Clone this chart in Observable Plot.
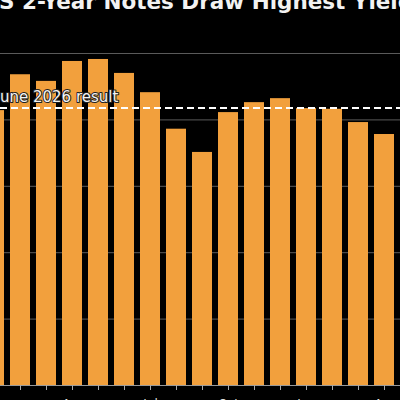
<!DOCTYPE html>
<html><head><meta charset="utf-8">
<script src="https://cdn.jsdelivr.net/npm/d3@7"></script>
<script src="https://cdn.jsdelivr.net/npm/@observablehq/plot@0.6"></script>
<style>
html,body{margin:0;padding:0;background:#000;}
#wrap{position:relative;width:400px;height:400px;overflow:hidden;background:#000;}
#title{position:absolute;z-index:2;left:-18.5px;top:-11.5px;white-space:nowrap;font:bold 21.5px "DejaVu Sans";color:#f2f2f2;}
#chart{position:absolute;z-index:1;left:0;top:0;}
</style></head><body>
<div id="wrap"><div id="title">US 2-Year Notes Draw Highest Yield Since 2024</div><div id="chart"></div></div>
<script>
const months = ["Jan 2025","Feb 2025","Mar 2025","Apr 2025","May 2025","Jun 2025","Jul 2025","Aug 2025","Sep 2025","Oct 2025","Nov 2025","Dec 2025","Jan 2026","Feb 2026","Mar 2026","Apr 2026"];
const yields = [4.14, 4.68, 4.58, 4.88, 4.91, 4.70, 4.41, 3.86, 3.51, 4.11, 4.26, 4.32, 4.17, 4.16, 3.96, 3.78];
const juneResult = 4.18;
const juneLabel = "June 2026 result";
const gridValues = [1, 2, 3, 4, 5];

const data = months.map((m, i) => ({month: m, value: yields[i]}));

const plot = Plot.plot({
  width: 400, height: 400,
  marginTop: 53, marginBottom: 15, marginLeft: 0, marginRight: 0,
  style: {background: "#000", color: "#ccc", fontFamily: "DejaVu Sans", fontSize: "12px"},
  x: {domain: months, range: [-19.25, 396.75], paddingInner: 0.25, paddingOuter: 0.125, align: 0.5, label: null},
  y: {domain: [0, 5], axis: null},
  marks: [
    Plot.ruleY(gridValues, {stroke: "#5a5a5a", strokeWidth: 1}),
    Plot.barY(data, {x: "month", y: "value", fill: "#f2a03d"}),
    Plot.ruleY([0], {stroke: "#999"}),
    Plot.axisX({label: null, tickSize: 5, tickPadding: 9, stroke: "#aaa", fill: "#ddd", fontSize: 12,
      tickFormat: (d, i) => i % 3 === 0 ? d.slice(0, 3) : ""}),
    Plot.ruleY([juneResult], {stroke: "#fff", strokeWidth: 2, strokeDasharray: "7,4"}),
    Plot.text([{month: months[0], v: juneResult, t: juneLabel}], {
      x: "month", y: "v", text: "t", textAnchor: "start", lineAnchor: "bottom",
      dx: 1, dy: -6, fill: "#f4f4f4", stroke: "#222", strokeWidth: 2, fontSize: 15
    })
  ]
});
document.getElementById("chart").appendChild(plot);
</script>
</body></html>
